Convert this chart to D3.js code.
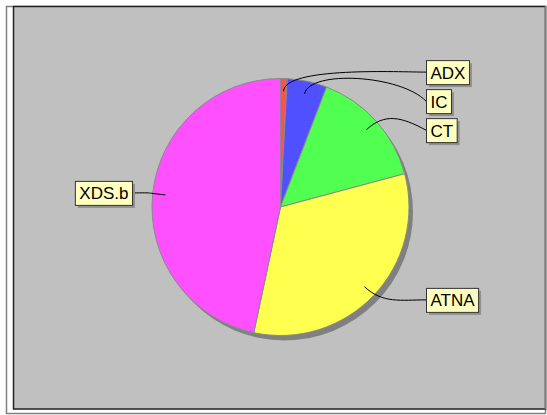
<!DOCTYPE html>
<html><head><meta charset="utf-8">
<script src="https://cdn.jsdelivr.net/npm/d3@7"></script>
<style>body{margin:0;background:#fff}svg{display:block}</style>
</head><body>
<script>
const categories = ["ADX", "IC", "CT", "ATNA", "XDS.b"];
const values = [1, 6, 18, 39, 56];
const colors = ["#ff5050", "#5050ff", "#50ff50", "#ffff50", "#ff50ff"];

const W = 547, H = 415;
const svg = d3.select("body").append("svg").attr("width", W).attr("height", H);

// frame
svg.append("rect").attr("x", 6.5).attr("y", 6.5).attr("width", 539).attr("height", 407)
  .attr("fill", "#fff").attr("stroke", "#808080").attr("stroke-width", 1.5);
svg.append("rect").attr("x", 13.5).attr("y", 6.5).attr("width", 532).attr("height", 402.5)
  .attr("fill", "#c0c0c0").attr("stroke", "#222").attr("stroke-width", 1.5);
svg.append("line").attr("x1", 545.5).attr("x2", 545.5).attr("y1", 6).attr("y2", 409)
  .attr("stroke", "#808080").attr("stroke-width", 1.5);

const cx = 280.5, cy = 207, R = 128.5;
const pie = d3.pie().sort(null).value(d => d.v);
const data = categories.map((c, i) => ({ c, v: values[i], col: colors[i] }));
const arcs = pie(data);
const arc = d3.arc().innerRadius(0).outerRadius(R);

const g = svg.append("g").attr("transform", `translate(${cx},${cy})`);
// shadow
g.append("circle").attr("cx", 4).attr("cy", 5).attr("r", R).attr("fill", "#808080");
g.selectAll("path.s").data(arcs).join("path").attr("class", "s")
  .attr("d", arc).attr("fill", d => d.data.col)
  .attr("stroke", "#8a8a8a").attr("stroke-width", 1);

// labels
const font = "'Liberation Sans', Arial, sans-serif";
const labels = arcs.map(a => {
  const m = (a.startAngle + a.endAngle) / 2;
  const y0 = -Math.cos(m) * R * 1.05;
  return { a, m, right: Math.sin(m) >= 0, y0, y: y0 };
});
// collision on right side (top to bottom)
const rightL = labels.filter(l => l.right).sort((p, q) => p.y - q.y);
for (let i = 1; i < rightL.length; i++) {
  if (rightL[i].y < rightL[i - 1].y + 29) rightL[i].y = rightL[i - 1].y + 29;
}

labels.forEach(l => {
  const ax = Math.sin(l.m) * R * 0.9, ay = -Math.cos(l.m) * R * 0.9;
  const t = svg.append("text").attr("font-family", font).attr("font-size", 17)
    .attr("fill", "#000").text(l.a.data.c);
  const tw = t.node().getComputedTextLength();
  const bw = tw + 8, bh = 24;
  const ly = cy + l.y;
  let bx;
  if (l.right) bx = cx + R + 17; else bx = cx - R - 20 - bw;
  const ex = l.right ? bx : bx + bw;
  const dir = l.right ? 1 : -1;
  const p0 = [cx + ax, cy + ay];
  const p1 = [p0[0] + Math.sin(l.m) * 25, p0[1] - Math.cos(l.m) * 25];
  const p2 = [ex - dir * 25, cy + l.y0];
  const path = d3.path();
  path.moveTo(p0[0], p0[1]);
  path.bezierCurveTo(p1[0], p1[1], p2[0], p2[1], ex, ly);
  svg.append("path").attr("d", path.toString()).attr("fill", "none")
    .attr("stroke", "#000").attr("stroke-width", 1);
  svg.append("rect").attr("x", bx + 3).attr("y", ly - bh / 2 + 3).attr("width", bw).attr("height", bh)
    .attr("fill", "#909090");
  svg.append("rect").attr("x", bx + 0.5).attr("y", ly - bh / 2 + 0.5).attr("width", bw).attr("height", bh)
    .attr("fill", "#ffffc0").attr("stroke", "#333").attr("stroke-width", 1);
  t.raise().attr("x", bx + bw / 2 + 0.5).attr("y", ly + 6.5).attr("text-anchor", "middle");
});
</script>
</body></html>
